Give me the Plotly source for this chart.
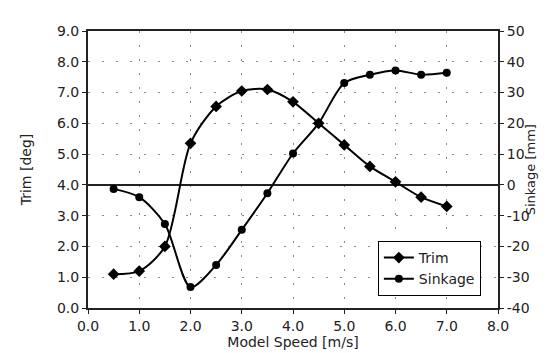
import plotly.graph_objects as go

speed = [0.5, 1.0, 1.5, 2.0, 2.5, 3.0, 3.5, 4.0, 4.5, 5.0, 5.5, 6.0, 6.5, 7.0]
trim = [1.1, 1.2, 2.0, 5.35, 6.55, 7.05, 7.1, 6.7, 6.0, 5.3, 4.6, 4.1, 3.6, 3.3]
sinkage = [-1.3, -4.0, -12.7, -33.2, -26.0, -14.6, -2.7, 10.2, 20.0, 33.1, 35.8, 37.2, 35.8, 36.4]

x_ticks = [0, 1, 2, 3, 4, 5, 6, 7, 8]
trim_ticks = [0, 1, 2, 3, 4, 5, 6, 7, 8, 9]
sink_ticks = [-40, -30, -20, -10, 0, 10, 20, 30, 40, 50]

FONT = "DejaVu Sans"

fig = go.Figure()
fig.add_trace(go.Scatter(
    x=speed, y=trim, name="Trim", mode="lines+markers",
    line=dict(color="black", width=2, shape="spline", smoothing=0.8),
    marker=dict(symbol="diamond", size=9, color="black"),
    yaxis="y"))
fig.add_trace(go.Scatter(
    x=speed, y=sinkage, name="Sinkage", mode="lines+markers",
    line=dict(color="black", width=2, shape="spline", smoothing=0.8),
    marker=dict(symbol="circle", size=8, color="black"),
    yaxis="y2"))

grid = dict(showgrid=True, gridcolor="#888", gridwidth=1, griddash="2px,12px")

fig.update_layout(
    width=548, height=353,
    margin=dict(l=80, r=58, t=23, b=53),
    paper_bgcolor="white", plot_bgcolor="white",
    font=dict(family=FONT, size=14, color="#222"),
    showlegend=True,
    legend=dict(x=0.707, y=0.242, xanchor="left", yanchor="top",
                bordercolor="black", borderwidth=1, bgcolor="white",
                font=dict(family=FONT, size=14), tracegroupgap=0,
                itemwidth=30),
    xaxis=dict(range=[0, 8], tickvals=x_ticks,
               ticktext=[f"{v:.1f}" for v in x_ticks],
               showline=True, linecolor="#222", linewidth=2, mirror=True,
               ticks="outside", ticklen=4, tickcolor="#222",
               title=dict(text="Model Speed [m/s]", standoff=4,
                          font=dict(family=FONT, size=14)),
               zeroline=False, automargin=False, **grid),
    yaxis=dict(range=[0, 9], tickvals=trim_ticks,
               ticktext=[f"{v:.1f}" for v in trim_ticks],
               showline=True, linecolor="#222", linewidth=2, mirror=True,
               ticks="outside", ticklen=4, tickcolor="#222",
               title=dict(text="Trim [deg]", standoff=22,
                          font=dict(family=FONT, size=14)),
               zeroline=False, automargin=False, **grid),
    yaxis2=dict(range=[-40, 50], tickvals=sink_ticks,
                ticktext=[str(v) for v in sink_ticks],
                overlaying="y", side="right",
                showline=True, linecolor="#222", linewidth=2,
                ticks="outside", ticklen=4, tickcolor="#222",
                showgrid=False, automargin=False,
                zeroline=True, zerolinecolor="#222", zerolinewidth=2),
    annotations=[dict(text="Sinkage [mm]", xref="paper", yref="paper",
                      x=1.08, y=0.5, xanchor="center", yanchor="middle",
                      textangle=-90, showarrow=False,
                      font=dict(family=FONT, size=13, color="#222"))],
)

fig.write_html("out.html")
